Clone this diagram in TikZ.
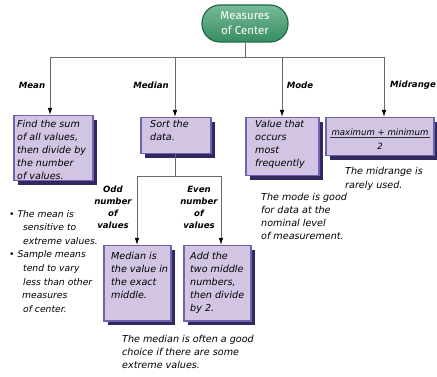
\documentclass[tikz,border=0pt]{standalone}
\usepackage{fontspec}
\setmainfont{DejaVu Sans}
\newfontfamily\hand{DejaVu Sans}
\newfontfamily\pillfont{Fira Sans}
\usetikzlibrary{shadows,arrows.meta}
\definecolor{boxfill}{HTML}{D2C5E3}
\definecolor{boxborder}{HTML}{7363AE}
\definecolor{shadowcol}{HTML}{2F2960}
\definecolor{linegray}{HTML}{6A6A6A}
\definecolor{pillfill}{HTML}{3E9C6C}
\definecolor{pilldark}{HTML}{1F6B46}
\tikzset{
  tree/.style={draw=linegray, line width=0.9pt},
  arr/.style={tree, -{Latex[length=7pt,width=4.5pt,black]}},
  box/.style={draw=boxborder, line width=1.5pt, fill=boxfill, anchor=north west, inner sep=0pt,
    drop shadow={shadow xshift=4pt, shadow yshift=-4pt, fill=shadowcol, opacity=1}},
  txt/.style={font=\hand\itshape\fontsize{9.6}{13}\selectfont, align=left, anchor=north west, inner sep=0pt},
  lbl/.style={font=\hand\itshape\bfseries\fontsize{8.6}{12}\selectfont, align=center, inner sep=0pt},
  pill/.style={draw=pilldark, line width=1.2pt, top color=pillfill!70!white, bottom color=pillfill!90!black,
    rounded corners=18pt, minimum width=86pt, minimum height=37pt, text=white,
    font=\pillfont\fontsize{11.5}{15}\selectfont, align=center, inner sep=0pt},
}
\begin{document}
\begin{tikzpicture}[x=1pt,y=-1pt]
\useasboundingbox[fill=white] (0,0) rectangle (437,377);

% top
\node[pill] (top) at (245,23.5) {Measures\\of Center};

% boxes
\node[box, minimum width=79pt, minimum height=65pt] (meanbox) at (13,115) {};
\node[box, minimum width=70pt, minimum height=36pt] (sortbox) at (140,117) {};
\node[box, minimum width=73pt, minimum height=58pt] (modebox) at (245,117) {};
\node[box, minimum width=108pt, minimum height=38pt] (midbox) at (325,117) {};
\node[box, minimum width=67pt, minimum height=75pt] (oddbox) at (103,245) {};
\node[box, minimum width=67pt, minimum height=75pt] (evenbox) at (183,245) {};

% box texts
\node[txt] (meantxt) at (17,120) {Find the sum\\of all values,\\then divide by\\the number\\of values.};
\node[txt] (sorttxt) at (150,120) {Sort the\\data.};
\node[txt] (modetxt) at (255,120) {Value that\\occurs\\most\\frequently};
\node[txt, anchor=center, font=\hand\itshape\fontsize{8.6}{13}\selectfont] (numer) at (380,132) {maximum + minimum};
\node[txt, anchor=center, font=\hand\itshape\fontsize{8.6}{13}\selectfont] (denom) at (380,146) {2};
\draw[line width=0.8pt, black!80] ([xshift=-1pt,yshift=-1.5pt]numer.south west) -- ([xshift=1pt,yshift=-1.5pt]numer.south east);
\node[txt] (oddtxt) at (111,252) {Median is\\the value in\\the exact\\middle.};
\node[txt] (eventxt) at (190,252) {Add the\\two middle\\numbers,\\then divide\\by 2.};

% connectors
\coordinate (jt) at (245,57);
\coordinate (jl) at (50,57);
\coordinate (jm) at (175,57);
\coordinate (jo) at (282,57);
\coordinate (jr) at (384,57);
\draw[tree] (top.south) -- (jt);
\draw[tree] (jl) -- (jr);
\draw[arr] (jl) -- (jl |- meanbox.north);
\draw[arr] (jm) -- (jm |- sortbox.north);
\draw[arr] (jo) -- (jo |- modebox.north);
\draw[arr] (jr) -- (jr |- midbox.north);

\coordinate (sp) at (175,176);
\coordinate (spl) at (137,176);
\coordinate (spr) at (221,176);
\draw[tree] (sp |- sortbox.south) -- (sp);
\draw[tree] (spl) -- (spr);
\draw[arr] (spl) -- (spl |- oddbox.north);
\draw[arr] (spr) -- (spr |- evenbox.north);

% labels
\node[lbl] (lmean) at (32,85) {Mean};
\node[lbl] (lmedian) at (151,85) {Median};
\node[lbl] (lmode) at (300,85) {Mode};
\node[lbl] (lmid) at (413,85) {Midrange};
\node[lbl, anchor=north] (lodd) at (113,186) {Odd\\number\\of\\values};
\node[lbl, anchor=north] (leven) at (199,186) {Even\\number\\of\\values};

% notes
\node[txt, font=\hand\itshape\fontsize{9.2}{13.6}\selectfont] (bul) at (9,210)
  {\textbullet\ The mean is\\\hspace*{14pt}sensitive to\\\hspace*{14pt}extreme values.\\
   \textbullet\ Sample means\\\hspace*{14pt}tend to vary\\\hspace*{14pt}less than other\\\hspace*{13pt}measures\\\hspace*{14pt}of center.};
\node[txt] (modenote) at (261,193) {The mode is good\\for data at the\\nominal level\\of measurement.};
\node[txt, font=\hand\itshape\fontsize{9.6}{14}\selectfont] (midnote) at (345,167) {The midrange is\\rarely used.};
\node[txt] (mednote) at (122,335) {The median is often a good\\choice if there are some\\extreme values.};
\end{tikzpicture}
\end{document}
